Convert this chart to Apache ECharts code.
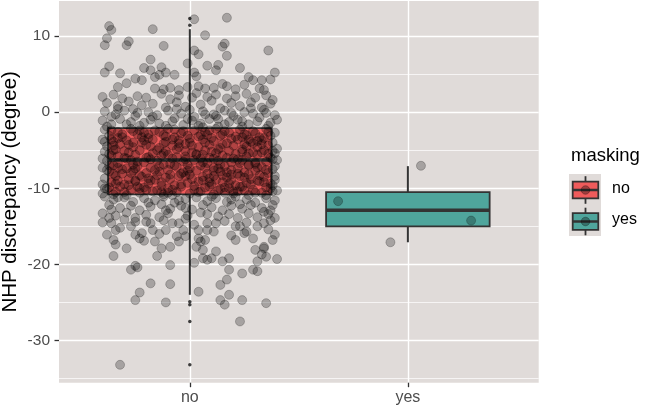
<!DOCTYPE html>
<html>
<head>
<meta charset="utf-8">
<script src="https://cdn.jsdelivr.net/npm/echarts@6/dist/echarts.min.js"></script>
<style>
html,body{margin:0;padding:0;background:#ffffff;}
#chart{width:646px;height:409px;}
</style>
</head>
<body>
<div id="chart"></div>
<script>
// ---- data ----
const categories = ['no', 'yes'];
const yTicks = [-30, -20, -10, 0, 10];
const yMinorTicks = [-35, -25, -15, -5, 5];
// box stats: [lower whisker, Q1, median, Q3, upper whisker]
const boxNo = [-24.0, -10.8, -6.3, -2.1, 10.9];
const boxYes = [-17.1, -15.0, -12.9, -10.5, -7.1];
const outliersNo = [12.3, 11.4, -24.9, -25.3, -27.5, -33.2];
const outliersYes = [];
// jittered observations: [horizontal jitter offset (category units), value]
const pointsYes = [[0.06, -7.05], [-0.32, -11.7], [0.29, -14.25], [-0.08, -17.1]];
const pointsNo = [
[0.02,12.2],[0.17,12.4],[-0.37,11.3],[-0.36,10.8],[-0.17,10.9],[-0.38,9.7],[-0.39,8.8],[-0.28,9.3],[-0.29,8.8],[0.07,10.1],
[0.16,9.0],[0.15,8.6],[-0.12,8.7],[0.36,8.1],[0.02,8.1],[0.04,7.6],[0.17,7.4],[-0.18,6.9],[-0.01,6.4],[0.08,6.1],
[0.13,6.2],[0.12,5.5],[0.23,5.8],[-0.37,6.0],[-0.39,5.2],[-0.21,5.8],[-0.18,5.5],[-0.13,5.9],[-0.32,5.1],[0.39,5.2],
[-0.11,5.2],[-0.07,4.9],[0.02,5.2],[0.03,4.7],[-0.25,4.4],[-0.22,4.2],[-0.16,4.6],[-0.14,4.9],[0.27,4.6],[0.29,4.2],
[0.33,4.2],[0.37,4.3],[-0.29,3.8],[-0.33,3.3],[-0.16,3.1],[-0.12,3.0],[-0.09,3.2],[-0.05,2.9],[-0.01,3.3],[0.04,3.4],
[0.07,3.1],[0.11,3.2],[0.15,3.7],[0.17,3.4],[0.21,3.0],[0.25,3.6],[0.32,3.1],[0.34,2.9],
[-0.40,2.0],[-0.35,2.3],[-0.31,1.8],[-0.24,2.1],[-0.20,1.9],[-0.13,2.4],[-0.09,1.7],[-0.05,2.2],[0.01,1.9],[0.03,2.5],
[0.08,2.0],[0.12,2.3],[0.17,1.8],[0.21,2.1],[0.26,2.4],[0.30,1.9],[0.35,2.2],[0.38,1.6],
[-0.38,1.2],[-0.33,0.8],[-0.28,1.4],[-0.22,0.9],[-0.17,1.1],[-0.11,0.6],[-0.06,1.3],[-0.02,0.7],[0.05,1.0],[0.10,1.5],
[0.14,0.5],[0.19,1.2],[0.23,0.8],[0.28,1.3],[0.33,0.6],[0.37,1.1],[-0.26,0.4],[0.00,0.3],
[-0.39,0.1],[-0.34,-0.3],[-0.30,0.2],[-0.25,-0.5],[-0.19,0.0],[-0.15,-0.4],[-0.10,0.2],[-0.04,-0.2],[0.02,-0.6],[0.06,0.1],
[0.11,-0.3],[0.16,0.2],[0.20,-0.5],[0.25,0.0],[0.29,-0.2],[0.34,0.3],[0.39,-0.4],[-0.07,-0.8],[0.13,-0.9],
[-0.40,-1.1],[-0.36,-1.6],[-0.32,-0.9],[-0.27,-1.3],[-0.23,-1.8],[-0.18,-1.0],[-0.14,-1.5],[-0.08,-1.2],[-0.03,-1.7],[0.01,-1.1],
[0.05,-1.5],[0.09,-0.9],[0.13,-1.9],[0.18,-1.3],[0.22,-1.0],[0.27,-1.6],[0.31,-1.2],[0.36,-1.8],[0.40,-1.0],[-0.21,-1.4],
[0.24,-1.9],[-0.38,-1.9],[0.06,-2.0],
[-0.36,-0.6],[-0.29,-1.6],[-0.17,-0.6],[-0.11,-1.8],[-0.01,-0.9],[0.04,-1.8],[0.12,-0.5],[0.16,-1.6],[0.24,-1.2],[0.32,-0.7],
[0.37,-1.4],[-0.24,-0.1],[0.07,-0.3],[0.19,-0.1],[-0.06,0.4],[0.28,0.5],[-0.33,0.4],[0.35,-0.1],
[-0.39,-2.3],[-0.33,-2.6],[-0.27,-2.2],[-0.21,-2.7],[-0.16,-2.4],[-0.10,-2.2],[-0.04,-2.8],[0.02,-2.4],[0.07,-2.6],[0.12,-2.2],
[0.18,-2.7],[0.23,-2.3],[0.29,-2.5],[0.35,-2.2],[0.39,-2.7],
[-0.37,-3.1],[-0.31,-3.3],[-0.24,-2.9],[-0.19,-3.4],[-0.12,-3.0],[-0.07,-3.3],[-0.01,-3.1],[0.05,-3.0],[0.10,-3.4],[0.15,-2.9],
[0.21,-3.2],[0.26,-3.0],[0.32,-3.3],[0.37,-3.1],
[-0.40,-3.6],[-0.35,-3.9],[-0.29,-3.7],[-0.22,-4.0],[-0.17,-3.6],[-0.11,-3.9],[-0.05,-3.7],[0.00,-4.0],[0.06,-3.6],[0.11,-3.8],
[0.17,-4.1],[0.22,-3.6],[0.28,-3.9],[0.33,-3.7],[0.38,-4.0],
[-0.38,-4.5],[-0.32,-4.2],[-0.26,-4.6],[-0.20,-4.3],[-0.14,-4.7],[-0.08,-4.4],[-0.02,-4.2],[0.04,-4.6],[0.09,-4.3],[0.14,-4.7],
[0.20,-4.4],[0.25,-4.2],[0.31,-4.6],[0.36,-4.4],[0.40,-4.8],
[-0.39,-5.2],[-0.34,-4.9],[-0.28,-5.3],[-0.23,-5.0],[-0.17,-5.4],[-0.11,-5.1],[-0.06,-4.9],[0.01,-5.3],[0.07,-5.0],[0.12,-5.4],
[0.18,-5.1],[0.24,-4.9],[0.29,-5.3],[0.34,-5.0],[0.39,-5.4],
[-0.36,-5.7],[-0.30,-6.0],[-0.25,-5.6],[-0.19,-5.9],[-0.13,-5.7],[-0.08,-6.1],[-0.02,-5.8],[0.03,-5.6],[0.09,-6.0],[0.15,-5.7],
[0.20,-6.1],[0.26,-5.8],[0.31,-5.6],[0.37,-6.0],[-0.40,-6.1],
[-0.38,-6.4],[-0.33,-6.7],[-0.27,-6.3],[-0.21,-6.6],[-0.15,-6.4],[-0.09,-6.8],[-0.03,-6.5],[0.02,-6.3],[0.08,-6.7],[0.13,-6.4],
[0.19,-6.6],[0.24,-6.3],[0.30,-6.8],[0.35,-6.5],[0.40,-6.3],
[-0.40,-7.3],[-0.35,-7.0],[-0.29,-7.4],[-0.24,-7.1],[-0.18,-7.3],[-0.12,-6.9],[-0.06,-7.2],[0.00,-7.4],[0.05,-7.0],[0.11,-7.3],
[0.16,-7.1],[0.22,-7.4],[0.27,-7.0],[0.33,-7.2],[0.38,-7.5],
[-0.37,-7.8],[-0.31,-8.1],[-0.26,-7.7],[-0.20,-8.0],[-0.14,-7.8],[-0.09,-8.2],[-0.03,-7.9],[0.03,-7.7],[0.08,-8.1],[0.14,-7.8],
[0.19,-8.2],[0.25,-7.9],[0.30,-7.7],[0.36,-8.0],[-0.02,-8.4],
[-0.39,-8.7],[-0.34,-8.4],[-0.28,-8.8],[-0.22,-8.5],[-0.16,-8.9],[-0.11,-8.6],[-0.05,-8.4],[0.01,-8.8],[0.06,-8.5],[0.12,-8.9],
[0.17,-8.6],[0.23,-8.4],[0.28,-8.8],[0.34,-8.5],[0.39,-8.9],
[-0.36,-9.2],[-0.30,-9.5],[-0.25,-9.1],[-0.19,-9.4],[-0.13,-9.2],[-0.07,-9.6],[-0.01,-9.3],[0.04,-9.1],[0.10,-9.5],[0.15,-9.2],
[0.21,-9.6],[0.26,-9.3],[0.32,-9.1],[0.37,-9.4],[-0.40,-9.5],
[-0.38,-10.1],[-0.32,-9.8],[-0.27,-10.2],[-0.21,-9.9],[-0.15,-10.3],[-0.10,-10.0],[-0.04,-9.8],[0.02,-10.2],[0.07,-9.9],[0.13,-10.3],
[0.18,-10.0],[0.24,-9.8],[0.29,-10.2],[0.35,-9.9],[0.40,-10.3],
[-0.40,-10.7],[-0.34,-10.5],[-0.29,-10.9],[-0.23,-10.6],[-0.17,-10.4],[-0.12,-10.8],[-0.06,-10.5],[0.00,-10.7],[0.05,-10.4],[0.11,-10.8],
[0.16,-10.6],[0.22,-10.4],[0.27,-10.9],[0.33,-10.6],[0.38,-10.4],
[-0.31,-2.9],[-0.03,-2.5],[0.27,-3.6],[-0.22,-3.3],[0.13,-4.9],[-0.35,-4.4],[0.36,-5.5],[-0.10,-5.6],[0.22,-6.2],[-0.26,-6.9],
[0.05,-6.1],[-0.16,-7.6],[0.31,-7.3],[-0.04,-8.1],[0.19,-8.9],[-0.33,-9.0],[0.09,-9.8],[-0.20,-10.2],[0.35,-10.9],[-0.08,-10.9],
[0.00,-3.5],[-0.14,-2.6],[0.16,-2.5],[0.33,-4.2],[-0.37,-5.5],[-0.05,-4.6],[0.24,-5.2],[-0.29,-6.1],[0.11,-7.7],[-0.23,-8.3],
[0.27,-8.2],[-0.13,-9.7],[0.18,-9.4],[0.38,-9.6],[-0.38,-7.6],[0.03,-5.5],[-0.18,-4.5],[0.08,-3.0],[-0.26,-4.0],[0.30,-6.6],
[-0.07,-7.0],[0.14,-6.9],[0.39,-8.4],[-0.30,-10.5],[0.20,-10.7],[-0.11,-3.2],[0.25,-2.9],[-0.39,-3.9],[0.06,-9.0],[-0.24,-9.8],
[-0.36,-2.4],[-0.19,-2.9],[0.04,-3.2],[0.30,-2.8],[-0.08,-3.6],[0.19,-3.5],[-0.28,-4.3],[0.01,-4.4],[0.26,-4.5],[-0.15,-5.0],
[0.10,-5.2],[0.33,-5.3],[-0.33,-5.8],[-0.06,-5.9],[0.17,-6.0],[0.38,-6.2],[-0.24,-6.5],[0.06,-6.6],[0.27,-6.9],[-0.37,-7.0],
[-0.14,-7.1],[0.13,-7.4],[0.35,-7.6],[-0.27,-8.0],[0.00,-8.2],[0.22,-8.1],[-0.19,-8.7],[0.09,-8.7],[0.31,-9.0],[-0.34,-9.4],
[-0.04,-9.5],[0.23,-9.8],[-0.23,-10.0],[0.04,-10.5],[0.30,-10.6],[-0.35,-10.8],[-0.10,-10.6],[0.14,-10.1],[0.37,-10.0],[-0.01,-6.9],
[-0.26,-2.5],[0.09,-2.4],[-0.12,-4.1],[0.15,-4.2],[0.34,-3.4],[-0.30,-5.1],[-0.02,-5.1],[0.21,-5.5],[-0.18,-6.2],[0.11,-6.1],
[-0.31,-7.5],[-0.10,-7.6],[0.19,-7.6],[0.39,-7.1],[-0.15,-8.3],[0.15,-8.3],[-0.25,-9.0],[0.02,-9.7],[0.28,-9.5],[-0.13,-10.5],
[0.25,-10.3],[-0.39,-10.0],[0.32,-8.3],[-0.35,-8.1],[0.07,-4.0],[-0.21,-3.7],[0.24,-3.3],[-0.07,-2.3],[0.36,-2.6],[-0.33,-3.4],
[-0.23,-2.4],[0.14,-3.1],[-0.05,-4.1],[0.29,-4.1],[-0.35,-5.0],[0.06,-5.6],[-0.20,-6.0],[0.23,-6.7],[-0.01,-7.7],[-0.33,-7.3],
[0.17,-7.9],[-0.18,-9.0],[0.09,-9.2],[0.34,-9.2],[-0.08,-10.2],[0.20,-10.4],[-0.28,-9.6],[0.27,-5.4],[-0.12,-5.4],[0.11,-8.4],
[-0.36,-3.6],[0.31,-3.8],[-0.02,-6.2],[0.38,-5.1],[-0.25,-7.4],[0.07,-7.3],[-0.09,-8.8],[0.25,-8.6],[-0.37,-9.9],[0.16,-9.9],
[-0.39,-11.1],[-0.35,-11.5],[-0.30,-11.2],[-0.26,-11.8],[-0.21,-11.3],[-0.16,-11.6],[-0.12,-11.1],[-0.07,-11.9],[-0.02,-11.4],[0.03,-11.2],
[0.08,-11.7],[0.12,-11.3],[0.17,-11.8],[0.21,-11.1],[0.26,-11.5],[0.30,-11.9],[0.35,-11.3],[0.39,-11.6],
[-0.37,-12.2],[-0.32,-12.6],[-0.27,-12.3],[-0.23,-12.9],[-0.18,-12.4],[-0.13,-12.1],[-0.09,-12.7],[-0.04,-12.3],[0.01,-12.8],[0.06,-12.2],
[0.10,-12.5],[0.15,-12.9],[0.19,-12.3],[0.24,-12.7],[0.28,-12.2],[0.33,-12.6],[0.37,-12.9],
[-0.40,-13.3],[-0.34,-13.6],[-0.29,-13.2],[-0.20,-13.5],[-0.14,-13.8],[-0.10,-13.3],[-0.01,-13.6],[0.05,-13.2],[0.13,-13.7],[0.18,-13.4],
[0.22,-13.9],[0.27,-13.3],[0.31,-13.8],[0.36,-13.4],
[-0.33,-11.2],[-0.19,-11.9],[-0.05,-11.6],[0.10,-11.1],[0.23,-12.1],[0.38,-12.2],[-0.36,-12.8],[-0.11,-12.9],[0.08,-13.4],[0.34,-13.1],
[-0.25,-13.9],[0.19,-11.5],[-0.02,-12.6],
[-0.40,-14.5],[-0.36,-14.6],[-0.34,-15.5],[-0.32,-15.2],[-0.38,-16.1],[-0.35,-16.8],[-0.34,-17.4],[-0.35,-18.9],[-0.25,-14.4],[-0.25,-16.1],
[-0.22,-15.9],[-0.23,-16.6],[-0.20,-14.4],[-0.17,-15.5],[-0.16,-17.0],[-0.18,-14.6],[-0.13,-17.9],[-0.09,-17.7],[-0.15,-18.9],[-0.11,-15.5],
[-0.08,-14.6],[-0.05,-14.6],[-0.03,-15.5],[-0.02,-16.3],[-0.05,-17.0],[-0.06,-16.3],[-0.27,-20.7],[-0.25,-20.2],[-0.24,-20.4],[-0.09,-20.1],
[-0.18,-22.5],[-0.23,-23.7],[-0.25,-24.7],[-0.11,-25.0],[-0.09,-22.6],[-0.32,-33.2],
[0.04,-16.6],[0.05,-17.0],[0.07,-16.8],[0.03,-17.7],[0.06,-18.1],[0.06,-19.2],[0.08,-19.4],[0.10,-19.2],[0.04,-15.5],[0.08,-15.5],
[0.11,-15.7],[0.12,-14.6],[0.12,-18.3],[0.08,-14.6],[0.02,-19.8],[0.15,-19.6],[0.18,-19.2],[0.18,-20.7],[0.21,-16.8],[0.21,-15.0],
[0.23,-15.0],[0.25,-15.9],[0.26,-15.7],[0.14,-22.7],[0.17,-22.0],[0.18,-24.0],[0.14,-24.7],[0.16,-25.3],[0.24,-21.2],[0.24,-24.7],
[0.23,-27.5],[0.04,-23.6],[0.29,-20.7],[0.31,-20.9],[0.31,-19.6],[0.33,-18.7],[0.34,-17.9],[0.35,-19.0],[0.30,-18.1],[0.40,-19.3],
[0.39,-16.1],[0.38,-16.8],[0.34,-17.7],[0.31,-15.0],[0.34,-14.6],[0.37,-14.2],[0.39,-13.9],[0.35,-25.1],
[-0.30,-14.1],[-0.27,-15.0],[-0.37,-13.9],[-0.21,-16.9],[-0.12,-14.2],[-0.02,-14.0],[0.02,-14.8],[0.16,-14.3],[0.26,-14.5],[0.19,-16.2],
[0.29,-16.6],[0.36,-15.4],[-0.29,-17.9],[-0.14,-16.0]
];
const fillColors = ['#ef5b5b', '#4fa59c'];

// ---- chart ----
const chart = echarts.init(document.getElementById('chart'), null, {renderer: 'canvas'});
const textGray = '#4d4d4d';
const panelColor = '#e0dbd9';
const fontFam = 'Liberation Sans, Arial, sans-serif';

function renderBox(params, api) {
  const x = api.value(0);
  const lo = api.value(1), q1 = api.value(2), md = api.value(3), q3 = api.value(4), hi = api.value(5);
  const hw = 0.375;
  const tl = api.coord([x - hw, q3]);
  const br = api.coord([x + hw, q1]);
  const top = api.coord([x, hi]);
  const uq = api.coord([x, q3]);
  const lq = api.coord([x, q1]);
  const bot = api.coord([x, lo]);
  const ml = api.coord([x - hw, md]);
  const mr = api.coord([x + hw, md]);
  const stroke = '#333333';
  return {
    type: 'group',
    children: [
      {type: 'line', shape: {x1: top[0], y1: top[1], x2: uq[0], y2: uq[1]}, style: {stroke: stroke, lineWidth: 2}},
      {type: 'line', shape: {x1: lq[0], y1: lq[1], x2: bot[0], y2: bot[1]}, style: {stroke: stroke, lineWidth: 2}},
      {type: 'rect', shape: {x: tl[0], y: tl[1], width: br[0] - tl[0], height: br[1] - tl[1]},
        style: {fill: api.visual('color'), stroke: stroke, lineWidth: 1.8}},
      {type: 'line', shape: {x1: ml[0], y1: ml[1], x2: mr[0], y2: mr[1]}, style: {stroke: stroke, lineWidth: 3.5}}
    ]
  };
}

const boxData = [
  {value: [0].concat(boxNo), itemStyle: {color: fillColors[0]}},
  {value: [1].concat(boxYes), itemStyle: {color: fillColors[1]}}
];
const outlierData = outliersNo.map(v => [0, v]).concat(outliersYes.map(v => [1, v]));
const jitterNo = pointsNo.map(p => [0 + p[0], p[1]]);
const jitterYes = pointsYes.map(p => [1 + p[0], p[1]]);

const pointStyle = {color: 'rgba(0,0,0,0.32)', borderColor: 'rgba(0,0,0,0.28)', borderWidth: 1};

function legendKey(cy, color) {
  const cx = 585.5, hw = 12.8, hh = 8.3;
  return [
    {type: 'line', shape: {x1: cx, y1: cy - hh - 5.5, x2: cx, y2: cy - hh}, style: {stroke: '#333', lineWidth: 1.8}},
    {type: 'line', shape: {x1: cx, y1: cy + hh, x2: cx, y2: cy + hh + 5.5}, style: {stroke: '#333', lineWidth: 1.8}},
    {type: 'rect', shape: {x: cx - hw, y: cy - hh, width: 2 * hw, height: 2 * hh}, style: {fill: color, stroke: '#333', lineWidth: 1.8}},
    {type: 'line', shape: {x1: cx - hw, y1: cy, x2: cx + hw, y2: cy}, style: {stroke: '#333', lineWidth: 2.5}},
    {type: 'circle', shape: {cx: cx, cy: cy, r: 4.3}, style: {fill: 'rgba(0,0,0,0.32)', stroke: 'rgba(0,0,0,0.28)', lineWidth: 1}}
  ];
}

const option = {
  animation: false,
  backgroundColor: '#ffffff',
  textStyle: {fontFamily: fontFam},
  grid: {left: 59, top: 1, width: 479.7, height: 381.7, show: true, backgroundColor: panelColor, borderWidth: 0,
         containLabel: false, outerBoundsMode: 'none'},
  xAxis: {
    type: 'value', min: -0.6, max: 1.6,
    axisLine: {show: false, onZero: false},
    axisTick: {show: true, length: 4.5, customValues: [0, 1], lineStyle: {color: '#333', width: 1.3}},
    axisLabel: {customValues: [0, 1], formatter: v => categories[Math.round(v)], color: textGray, fontSize: 16, margin: 7},
    splitLine: {show: true, lineStyle: {color: '#ffffff', width: 1.4}}
  },
  yAxis: [
    {
      type: 'value', min: -35.55, max: 14.6,
      axisLine: {show: false, onZero: false},
      axisTick: {show: true, length: 4.5, customValues: yTicks, lineStyle: {color: '#333', width: 1.3}},
      axisLabel: {customValues: yTicks, color: textGray, fontSize: 15.5, margin: 9},
      splitLine: {show: true, lineStyle: {color: '#ffffff', width: 1.4}},
      name: 'NHP discrepancy (degree)', nameLocation: 'middle', nameRotate: 90, nameGap: 38,
      nameMoveOverlap: false,
      nameTextStyle: {fontSize: 20.5, color: '#000'}
    },
    {
      type: 'value', min: -35.55, max: 14.6, position: 'right',
      axisLine: {show: false, onZero: false},
      axisTick: {show: false, customValues: yMinorTicks},
      axisLabel: {show: false, customValues: yMinorTicks},
      splitLine: {show: true, lineStyle: {color: '#ffffff', width: 0.7}}
    }
  ],
  series: [
    {type: 'custom', renderItem: renderBox, data: boxData, encode: {x: 0, y: [1, 2, 3, 4, 5]}, z: 2, silent: true},
    {type: 'scatter', data: outlierData, symbolSize: 3.5, itemStyle: {color: '#111'}, z: 3, silent: true},
    {type: 'scatter', data: jitterNo, symbolSize: 9, itemStyle: pointStyle, z: 4, silent: true},
    {type: 'scatter', data: jitterYes, symbolSize: 9, itemStyle: pointStyle, z: 4, silent: true}
  ],
  graphic: [
    {type: 'text', left: 571, top: 146, style: {text: 'masking', fontSize: 18.5, fill: '#000', fontFamily: fontFam}},
    {type: 'rect', shape: {x: 569, y: 174, width: 32, height: 62}, style: {fill: panelColor}},
    {type: 'group', children: legendKey(190, fillColors[0])},
    {type: 'group', children: legendKey(221.5, fillColors[1])},
    {type: 'text', left: 612, top: 181, style: {text: 'no', fontSize: 16, fill: '#000', fontFamily: fontFam}},
    {type: 'text', left: 612, top: 212, style: {text: 'yes', fontSize: 16, fill: '#000', fontFamily: fontFam}}
  ]
};
chart.setOption(option);
</script>
</body>
</html>
